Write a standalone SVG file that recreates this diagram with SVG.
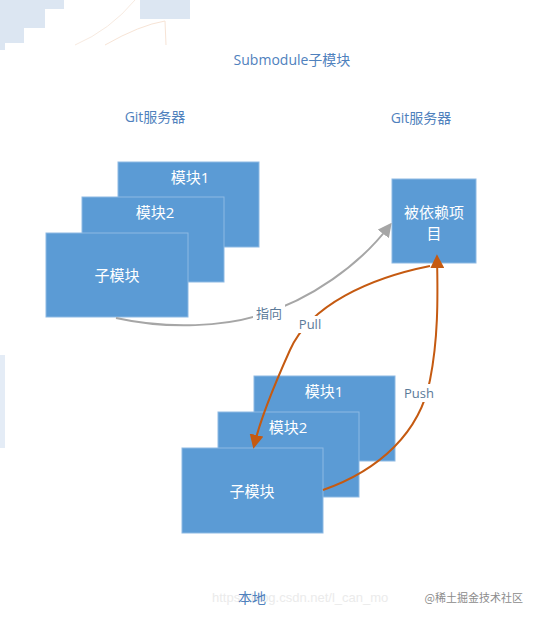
<svg xmlns="http://www.w3.org/2000/svg" width="539" height="618" viewBox="0 0 539 618">
<defs>
<style>
.box{fill:#5B9BD5;stroke:#8DB9E3;stroke-width:1}
.bt{fill:#ffffff;font-family:"Open Sans","Noto Sans CJK SC",sans-serif;font-size:15px;text-anchor:middle;dominant-baseline:central}
.title{fill:#4F81BD;font-family:"Open Sans","Noto Sans CJK SC",sans-serif;font-size:14px;text-anchor:middle;dominant-baseline:central}
.lbl{fill:#5B7A99;font-family:"Open Sans","Noto Sans CJK SC",sans-serif;font-size:13px;text-anchor:middle;dominant-baseline:central}
.gray{fill:none;stroke:#A6A6A6;stroke-width:2}
.org{fill:none;stroke:#C55A11;stroke-width:2}
</style>
<marker id="ag" viewBox="0 0 10 10" refX="8" refY="5" markerWidth="7" markerHeight="7" orient="auto" markerUnits="strokeWidth"><path d="M0,0 L10,5 L0,10 z" fill="#A6A6A6"/></marker>
<marker id="ao" viewBox="0 0 10 10" refX="8" refY="5" markerWidth="7" markerHeight="7" orient="auto" markerUnits="strokeWidth"><path d="M0,0 L10,5 L0,10 z" fill="#C55A11"/></marker>
</defs>
<rect width="539" height="618" fill="#ffffff"/>
<g id="bg-artifacts">
<polygon points="0,0 64,0 64,9 45,9 45,28 24,28 24,43 5,43 5,50 0,50" fill="#DCE6F2"/>
<rect x="140" y="0" width="50" height="19" fill="#DCE6F2"/>
<rect x="0" y="355" width="5" height="93" fill="#E4ECF6"/>
<path d="M75,45 Q110,30 135,0" fill="none" stroke="#F7EAE0" stroke-width="1"/>
<path d="M105,45 Q140,25 165,21 L166,45" fill="none" stroke="#F7E4D6" stroke-width="1"/>
</g>
<g id="titles">
<text class="title" x="292" y="59">Submodule子模块</text>
<text class="title" x="155" y="116">Git服务器</text>
<text class="title" x="421" y="117">Git服务器</text>
</g>
<g id="server-mod1"><rect class="box" x="118" y="162" width="141" height="85"/><text class="bt" x="190" y="177">模块1</text></g>
<g id="server-mod2"><rect class="box" x="82" y="197" width="142" height="85"/><text class="bt" x="155" y="212">模块2</text></g>
<g id="server-sub"><rect class="box" x="46" y="233" width="142" height="84"/><text class="bt" x="117" y="275">子模块</text></g>
<g id="dep"><rect class="box" x="392" y="179" width="84" height="84"/><text class="bt" x="434" y="212">被依赖项</text><text class="bt" x="434" y="233">目</text></g>
<g id="local-mod1"><rect class="box" x="254" y="376" width="141" height="85"/><text class="bt" x="324" y="391">模块1</text></g>
<g id="local-mod2"><rect class="box" x="218" y="412" width="141" height="85"/><text class="bt" x="288" y="427">模块2</text></g>
<g id="local-sub"><rect class="box" x="182" y="448" width="141" height="85"/><text class="bt" x="252" y="491">子模块</text></g>
<g id="connectors">
<path class="gray" d="M116,318 C170,330 225,326 260,315 C310,300 360,265 390,225" marker-end="url(#ag)"/>
<rect x="253" y="304" width="32" height="18" fill="#ffffff"/>
<text class="lbl" x="269" y="313">指向</text>
<path class="org" d="M430,266 C370,278 310,305 290,350 C272,390 260,420 254,446" marker-end="url(#ao)"/>
<rect x="296" y="316" width="28" height="17" fill="#ffffff"/>
<text class="lbl" x="310" y="324">Pull</text>
<path class="org" d="M323,490 C380,470 420,432 430,380 C438,340 438,300 437,257" marker-end="url(#ao)"/>
<rect x="403" y="384" width="33" height="18" fill="#ffffff"/>
<text class="lbl" x="419" y="393">Push</text>
</g>
<g id="watermark">
<text x="212" y="597" fill="#EBEBEB" font-family="'Liberation Sans',sans-serif" font-size="13" dominant-baseline="central">https://blog.csdn.net/l_can_mo</text>
<text class="title" x="252" y="597">本地</text>
<rect x="418" y="588" width="110" height="18" fill="#ffffff" fill-opacity="0.7"/>
<text x="523" y="597" fill="#8C8C8C" font-family="'Noto Sans CJK SC',sans-serif" font-size="11" text-anchor="end" dominant-baseline="central">@稀土掘金技术社区</text>
</g>
</svg>
